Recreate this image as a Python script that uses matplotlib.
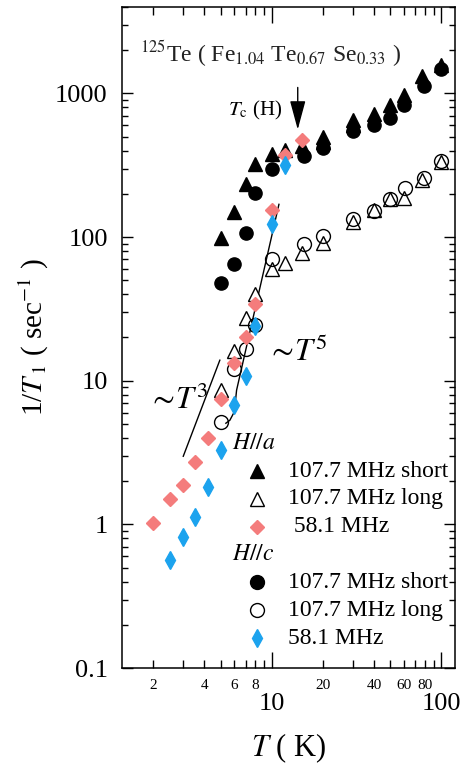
import matplotlib
matplotlib.use("Agg")
import matplotlib.pyplot as plt
from matplotlib.ticker import FixedLocator, FixedFormatter, NullFormatter

plt.rcParams["font.family"] = ["Liberation Serif", "DejaVu Serif"]
plt.rcParams["mathtext.fontset"] = "stix"

# H // a
T_a_short = [5, 6, 7, 8, 10, 12, 15, 20, 20, 30, 30, 40, 50, 60, 77, 100]
R_a_short = [99, 149, 235, 321, 380, 401, 430, 497, 458, 649, 599, 722, 825, 968, 1313, 1566]
T_a_long = [5, 6, 7, 8, 10, 12, 15, 20, 30, 40, 50, 60, 77, 100]
R_a_long = [8.6, 16.1, 27.5, 40.4, 60.3, 66.4, 77.4, 91.5, 127, 155, 185, 188, 248, 333]
T_a_58 = [2, 2.5, 3, 3.5, 4.2, 5, 6, 7, 8, 10, 12, 15]
R_a_58 = [1.015, 1.50, 1.89, 2.74, 3.98, 7.52, 13.3, 20.2, 34.4, 155, 370, 476]

# H // c
T_c_short = [5, 6, 7, 8, 10, 15.5, 20, 30, 40, 50, 60, 79, 100]
R_c_short = [47.9, 65.4, 107, 204, 299, 366, 416, 547, 599, 678, 834, 1124, 1486]
T_c_long = [5, 6, 7, 8, 10, 15.5, 20, 30, 40, 50, 61, 79, 100]
R_c_long = [5.12, 12.0, 16.7, 24.3, 70.8, 90.0, 101.7, 134, 152, 185, 221, 259, 336]
T_c_58 = [2.5, 3, 3.5, 4.2, 5, 6, 7, 8, 10, 12]
R_c_58 = [0.564, 0.811, 1.117, 1.81, 3.32, 6.76, 10.8, 24.1, 123, 316]

# guide lines
T3_x = [3.0, 4.93]
T3_y = [2.98, 13.9]
T5_x = [5.35, 5.65, 6.0, 6.19, 11.0]
T5_y = [5.06, 5.31, 6.07, 8.6, 169]

pink = "#F47C7C"
blue = "#1CA3EE"

fig = plt.figure(figsize=(4.68, 7.67), dpi=100)
ax = fig.add_axes([0.26, 0.129, 0.712, 0.862])

ax.plot(T3_x, T3_y, "k-", lw=1)
ax.plot(T5_x, T5_y, "k-", lw=1)

ax.plot(T_a_long, R_a_long, "^", ms=10, mfc="white", mec="k", mew=1, ls="none")
ax.plot(T_c_long, R_c_long, "o", ms=10, mfc="none", mec="k", mew=1, ls="none")
ax.plot(T_a_short, R_a_short, "^", ms=10, color="k", ls="none")
ax.plot(T_c_short, R_c_short, "o", ms=9.5, color="k", ls="none")
ax.plot(T_a_58, R_a_58, "D", ms=7, color=pink, ls="none")
ax.plot(T_c_58, R_c_58, "d", ms=9, color=blue, ls="none")

ax.set_xscale("log")
ax.set_yscale("log")
ax.set_xlim(1.3, 120)
ax.set_ylim(0.1, 4000)

ax.set_yticks([0.1, 1, 10, 100, 1000])
ax.set_yticklabels(["0.1", "1", "10", "100", "1000"])
ax.xaxis.set_major_locator(FixedLocator([10, 100]))
ax.xaxis.set_major_formatter(FixedFormatter(["10", "100"]))
minor_x = [2, 3, 4, 5, 6, 7, 8, 9, 20, 30, 40, 50, 60, 70, 80, 90]
minor_lab = ["2", "", "4", "", "6", "", "8", "", "20", "", "40", "", "60", "", "80", ""]
ax.xaxis.set_minor_locator(FixedLocator(minor_x))
ax.xaxis.set_minor_formatter(FixedFormatter(minor_lab))
ax.yaxis.set_minor_formatter(NullFormatter())

ax.tick_params(axis="both", which="both", direction="in", top=True, right=True, width=1)
ax.tick_params(axis="x", which="major", length=11.5, labelsize=19, pad=18)
ax.tick_params(axis="x", which="minor", length=5.5, labelsize=11, pad=8)
ax.tick_params(axis="y", which="major", length=8, labelsize=19, pad=10)
ax.tick_params(axis="y", which="minor", length=4.5)
for s in ax.spines.values():
    s.set_linewidth(1.1)

ax.set_xlabel(r"$T$ ( K)", fontsize=22, labelpad=12)
ax.set_ylabel(r"1/$T_{\,1}$ ( sec$^{-1}$ )", fontsize=21, labelpad=3)

ax.text(1.665, 1900, r"$^{125}$Te ( Fe$_{1.04}$ Te$_{0.67}$ Se$_{0.33}$ )",
        fontsize=17, va="center", ha="left", color="#222222")
ax.text(5.5, 760, r"$T_{\rm c}$ (H)", fontsize=15, va="center", ha="left")
ax.annotate("", xy=(14.2, 560), xytext=(14.2, 1100),
            arrowprops=dict(arrowstyle="-|>,head_length=1.0,head_width=0.27",
                            color="k", lw=1, mutation_scale=18, shrinkA=0, shrinkB=0))
ax.text(1.85, 7.3, r"$\sim\!T^3$", fontsize=23, va="center", ha="left")
ax.text(9.4, 15.8, r"$\sim\!T^5$", fontsize=23, va="center", ha="left")

# legend drawn by hand
legend_rows = [
    ("head", r"$H//a$"),
    (("^", "k", "k"), "107.7 MHz short"),
    (("^", "white", "k"), "107.7 MHz long"),
    (("D", pink, pink), " 58.1 MHz"),
    ("head", r"$H//c$"),
    (("o", "k", "k"), "107.7 MHz short"),
    (("o", "white", "k"), "107.7 MHz long"),
    (("d", blue, blue), "58.1 MHz"),
]
y0 = 0.340
dy = 0.0421
for i, (mk, lab) in enumerate(legend_rows):
    y = y0 - i * dy
    if mk == "head":
        ax.text(0.33, y, lab, transform=ax.transAxes, fontsize=17, va="center", ha="left")
    else:
        m, fc, ec = mk
        ms = {"^": 10, "o": 10, "D": 7, "d": 9}[m]
        ax.plot([0.405], [y], m, transform=ax.transAxes, ms=ms, mfc=fc, mec=ec, mew=1)
        ax.text(0.499, y, lab, transform=ax.transAxes, fontsize=17, va="center", ha="left")

fig.savefig("out.png", dpi=100)
